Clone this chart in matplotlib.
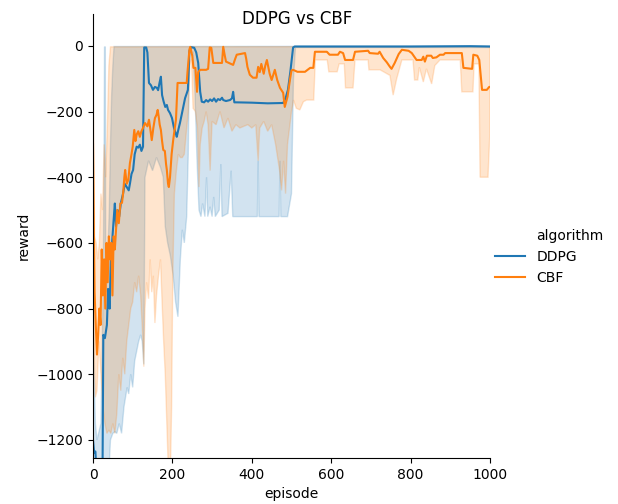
import matplotlib
matplotlib.use("Agg")
import matplotlib.pyplot as plt
from matplotlib.lines import Line2D

# DDPG: mean line and confidence band
ddpg_ep = [0, 3, 6, 9, 24, 26, 30, 35, 38, 42, 45, 48, 52, 55, 58, 62, 66, 70, 76, 80,
           85, 90, 93, 97, 101, 105, 110, 114, 118, 122, 126, 129, 134, 137, 141, 146, 151, 156, 161, 164,
           168, 171, 174, 178, 182, 186, 189, 194, 199, 204, 208, 211, 215, 219, 225, 232, 236, 239, 243, 247,
           255, 260, 265, 270, 274, 280, 285, 290, 295, 300, 305, 310, 315, 320, 325, 328, 335, 345, 350, 353,
           356, 362, 400, 440, 479, 485, 491, 497, 504, 508, 600, 800, 950, 1000]
ddpg_mean = [-1200, -1240, -1235, -1300, -1300, -880, -890, -850, -740, -800, -650, -600, -530, -480, -550, -500, -520, -480, -448, -420,
             -430, -440, -420, -390, -378, -330, -307, -310, -301, -320, -307, -5, -5, -20, -113, -120, -134, -125, -128, -135,
             -110, -94, -150, -170, -186, -180, -195, -205, -220, -250, -265, -277, -255, -235, -200, -159, -145, -134, -15, -4,
             -6, -20, -52, -140, -170, -172, -165, -170, -163, -168, -160, -170, -162, -165, -158, -165, -168, -165, -160, -140,
             -172, -172, -173, -175, -174, -160, -134, -80, -5, -2, -2, -2, -1, -2]
ddpg_hi_ep = [0, 3, 6, 10, 20, 26, 28, 29, 31, 32, 33, 37, 41, 44, 47, 50, 53, 1000]
ddpg_hi = [-820, -1000, -1150, -1200, -1150, -700, -300, -3, -3, -600, -750, -650, -500, -300, -150, -60, -2, -1]
ddpg_lo_ep = [0, 40, 44, 50, 55, 60, 66, 72, 78, 82, 86, 90, 95, 100, 105, 110, 115, 120, 124, 128,
              131, 140, 150, 160, 170, 177, 182, 188, 195, 202, 208, 214, 220, 225, 230, 236, 240, 243, 252, 257,
              262, 267, 272, 276, 282, 286, 289, 295, 300, 304, 308, 318, 322, 325, 340, 348, 352, 400, 414, 416,
              418, 455, 469, 471, 473, 490, 500, 505, 510, 1000]
ddpg_lo = [-1300, -1300, -1200, -1180, -1175, -1180, -1150, -1180, -1100, -1070, -1040, -1060, -1000, -1040, -960, -930, -900, -880, -900, -970,
           -400, -350, -380, -340, -370, -400, -550, -600, -640, -700, -780, -825, -650, -560, -600, -520, -330, -20, -20, -150,
           -350, -500, -520, -480, -520, -400, -520, -490, -520, -460, -520, -500, -360, -520, -510, -380, -520, -520, -520, -350,
           -520, -520, -520, -350, -520, -520, -450, -100, -5, -5]

# CBF: mean line and confidence band
cbf_ep = [0, 2, 4, 7, 10, 13, 16, 19, 22, 25, 28, 31, 34, 37, 40, 43, 46, 49, 52, 55,
          58, 61, 65, 69, 73, 76, 79, 81, 85, 89, 93, 97, 100, 104, 107, 110, 114, 118, 122, 126,
          131, 134, 137, 141, 144, 148, 152, 156, 160, 163, 166, 168, 171, 174, 177, 181, 184, 186, 189, 191,
          194, 198, 202, 206, 209, 211, 213, 225, 236, 238, 240, 243, 245, 250, 253, 258, 262, 265, 270, 285,
          290, 294, 298, 303, 325, 328, 332, 335, 353, 358, 362, 383, 386, 389, 395, 403, 412, 416, 420, 424,
          430, 434, 438, 445, 450, 458, 464, 471, 479, 483, 490, 496, 500, 504, 515, 534, 547, 555, 559, 589,
          596, 617, 622, 630, 635, 655, 660, 693, 697, 718, 722, 731, 740, 748, 752, 760, 770, 778, 795, 803,
          815, 828, 832, 836, 841, 852, 856, 865, 874, 883, 887, 929, 933, 955, 958, 968, 973, 980, 992, 998, 1000]
cbf_mean = [-300, -550, -750, -850, -940, -880, -800, -850, -620, -760, -650, -800, -600, -720, -580, -650, -600, -760, -580, -620,
            -560, -500, -540, -480, -478, -448, -400, -378, -420, -408, -357, -330, -307, -256, -290, -270, -260, -277, -260, -250,
            -235, -240, -245, -225, -250, -287, -250, -220, -210, -195, -220, -240, -256, -290, -317, -320, -360, -378, -420, -430,
            -400, -330, -287, -250, -225, -170, -113, -113, -113, -80, -52, -10, -3, -30, -67, -67, -140, -80, -73, -73,
            -70, -5, -6, -52, -52, -3, -30, -48, -58, -40, -27, -22, -40, -64, -88, -97, -97, -64, -80, -55,
            -85, -60, -43, -85, -104, -73, -104, -128, -143, -186, -155, -104, -75, -73, -79, -79, -67, -67, -18, -18,
            -27, -27, -18, -22, -43, -43, -18, -15, -22, -24, -18, -37, -50, -64, -70, -52, -25, -12, -15, -22,
            -43, -43, -33, -48, -30, -30, -37, -35, -27, -27, -22, -22, -67, -70, -27, -30, -43, -134, -134, -125, -125]
cbf_hi_ep = [0, 2, 4, 8, 12, 16, 20, 24, 28, 32, 36, 40, 44, 1000]
cbf_hi = [-50, -300, -580, -600, -650, -600, -450, -500, -300, -400, -250, -60, -3, -2]
cbf_lo_ep = [0, 3, 6, 10, 15, 20, 25, 30, 35, 40, 45, 50, 55, 60, 65, 70, 75, 80, 85, 90,
             95, 100, 105, 110, 115, 120, 125, 128, 131, 135, 140, 144, 148, 152, 156, 160, 165, 170, 174, 178,
             182, 186, 190, 195, 198, 201, 205, 210, 215, 220, 225, 230, 236, 240, 244, 248, 252, 258, 263, 267,
             270, 275, 280, 285, 290, 295, 300, 310, 320, 330, 340, 350, 360, 370, 380, 390, 400, 410, 416, 420,
             430, 440, 450, 460, 470, 475, 480, 485, 490, 495, 500, 505, 512, 521, 530, 538, 556, 560, 590, 594,
             615, 620, 633, 636, 655, 660, 693, 695, 715, 723, 748, 756, 765, 778, 806, 810, 818, 822, 832, 840,
             853, 861, 874, 925, 929, 957, 960, 972, 975, 983, 995, 1000]
cbf_lo = [-500, -950, -1070, -1050, -900, -1000, -1100, -1150, -1180, -1170, -1180, -1150, -1180, -1120, -1000, -1050, -950, -1000, -900, -850,
          -800, -780, -720, -750, -700, -760, -880, -977, -800, -720, -770, -650, -750, -700, -844, -760, -700, -650, -780, -900,
          -1000, -1150, -1300, -1300, -1100, -700, -450, -380, -330, -340, -340, -330, -250, -200, -60, -40, -190, -200, -250, -430,
          -300, -250, -230, -200, -240, -380, -230, -240, -200, -250, -220, -260, -240, -250, -245, -240, -250, -240, -350, -250,
          -230, -260, -240, -300, -380, -440, -350, -450, -300, -250, -200, -165, -190, -195, -170, -165, -165, -43, -43, -79,
          -79, -55, -55, -128, -128, -43, -43, -73, -73, -73, -90, -150, -100, -43, -43, -104, -104, -65, -110, -70,
          -116, -60, -43, -43, -140, -140, -55, -55, -400, -400, -400, -256]

blue = '#1f77b4'
orange = '#ff7f0e'


def band(ax, hi_x, hi_y, lo_x, lo_y, color):
    # polygon: upper edge left->right, lower edge right->left
    xs = list(hi_x) + list(lo_x)[::-1]
    ys = list(hi_y) + list(lo_y)[::-1]
    ax.fill(xs, ys, color=color, alpha=0.2, linewidth=1)


fig = plt.figure(figsize=(6.18, 5.04), dpi=100)
ax = fig.add_axes([93 / 618, 46 / 504, 397 / 618, 444 / 504])

band(ax, ddpg_hi_ep, ddpg_hi, ddpg_lo_ep, ddpg_lo, blue)
band(ax, cbf_hi_ep, cbf_hi, cbf_lo_ep, cbf_lo, orange)
ax.plot(ddpg_ep, ddpg_mean, color=blue, lw=1.5)
ax.plot(cbf_ep, cbf_mean, color=orange, lw=1.5)

ax.set_xlim(0, 1000)
ax.set_ylim(-1255, 97)
ax.set_xticks(range(0, 1001, 200))
ax.set_yticks(range(-1200, 1, 200))
ax.set_xlabel('episode')
ax.set_ylabel('reward')
ax.spines['top'].set_visible(False)
ax.spines['right'].set_visible(False)

fig.suptitle('DDPG vs CBF', x=297 / 618)

handles = [Line2D([], [], color='none'),
           Line2D([], [], color=blue, lw=1.5),
           Line2D([], [], color=orange, lw=1.5)]
fig.legend(handles, ['algorithm', 'DDPG', 'CBF'], loc='center left',
           bbox_to_anchor=(0.780, 0.49), frameon=False, handlelength=2.2)

fig.savefig('out.png', dpi=100)
